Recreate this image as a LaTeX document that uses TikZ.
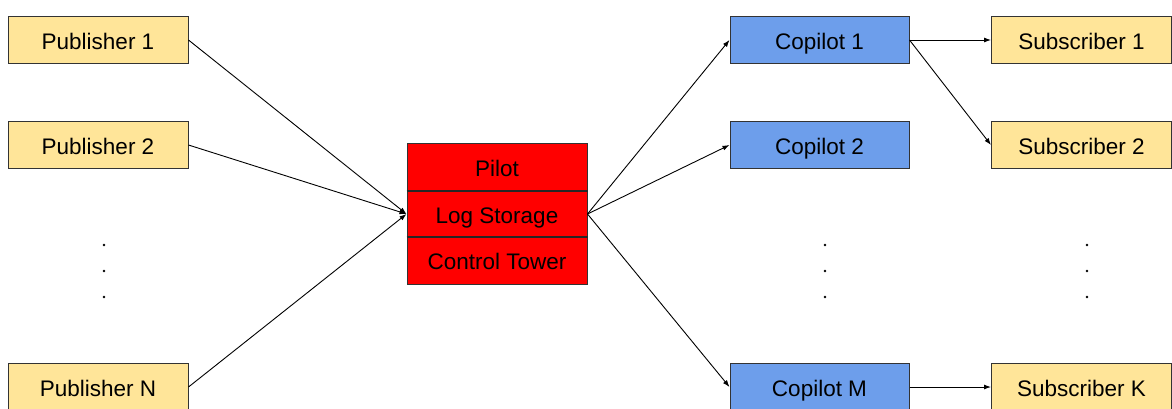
\documentclass[tikz,border=0pt]{standalone}
\usepackage{fontspec}
\setmainfont{Liberation Sans}
\usetikzlibrary{arrows.meta}
\definecolor{pubyellow}{HTML}{FFE599}
\definecolor{copblue}{HTML}{6D9EEB}
\definecolor{edgegray}{HTML}{333333}
\tikzset{
  box/.style={draw=edgegray, line width=1pt, minimum width=180pt, minimum height=47pt,
    inner sep=0pt, text height=18pt, text depth=0pt,
    font=\fontsize{22.5}{26}\selectfont, text=black},
  pubbox/.style={box, fill=pubyellow},
  copbox/.style={box, fill=copblue},
  corebox/.style={box, fill=red},
  separator/.style={draw=black!85, line width=1.2pt},
  link/.style={line width=0.9pt, -{Latex[length=7pt,width=5pt]}},
  vdot/.style={circle, fill=black, inner sep=0pt, minimum size=2.6pt}
}
\begin{document}
\begin{tikzpicture}[x=1pt, y=-1pt]
\useasboundingbox (0,0) rectangle (1172,408);
\clip (0,0) rectangle (1172,408);
\fill[white] (0,0) rectangle (1172,408);

% publishers
\node[pubbox] (p1) at (98,40) {Publisher 1};
\node[pubbox] (p2) at (98,145) {Publisher 2};
\node[pubbox] (pn) at (98,387) {Publisher N};

% pilot / log storage / control tower stack
\node[corebox, minimum height=48pt] (pilot) at (497,167) {Pilot};
\node[corebox, minimum height=46pt] (log) at (497,214) {Log Storage};
\node[corebox, minimum height=47pt] (ctrl) at (497,260.5) {Control Tower};
% row separators, drawn on top of the fills
\draw[separator] ([yshift=-0.5pt]log.north west) -- ([yshift=-0.5pt]log.north east);
\draw[separator] ([yshift=-0.5pt]ctrl.north west) -- ([yshift=-0.5pt]ctrl.north east);

% copilots
\node[copbox, minimum width=179pt] (c1) at (819.5,40) {Copilot 1};
\node[copbox, minimum width=179pt] (c2) at (819.5,145) {Copilot 2};
\node[copbox, minimum width=179pt] (cm) at (819.5,387) {Copilot M};

% subscribers
\node[pubbox] (s1) at (1081.5,40) {Subscriber 1};
\node[pubbox] (s2) at (1081.5,145) {Subscriber 2};
\node[pubbox] (sk) at (1081.5,387) {Subscriber K};

% elided rows
\foreach \x/\n in {104/a, 825/b, 1087/c}{
  \node[vdot] (d\n1) at (\x,245) {};
  \node[vdot] (d\n2) at (\x,271) {};
  \node[vdot] (d\n3) at (\x,297) {};
}

% connectors
\draw[link] (p1.east) -- (log.west);
\draw[link] (p2.east) -- (log.west);
\draw[link] (pn.east) -- (log.west);
\draw[link] (log.east) -- (c1.west);
\draw[link] (log.east) -- (c2.west);
\draw[link] (log.east) -- (cm.west);
\draw[link] (c1.east) -- (s1.west);
\draw[link] (c1.east) -- (s2.west);
\draw[link] (cm.east) -- (sk.west);
\end{tikzpicture}
\end{document}
